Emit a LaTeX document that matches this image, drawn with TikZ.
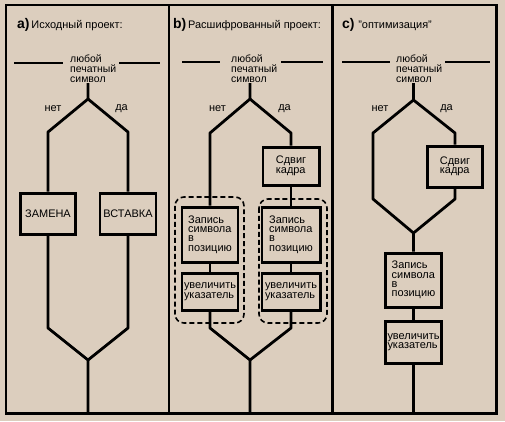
\documentclass[tikz,border=0pt]{standalone}
\usepackage{fontspec}
\setmainfont{Liberation Sans}
\definecolor{bg}{RGB}{220,206,190}
\begin{document}
\begin{tikzpicture}[x=1bp,y=-1bp,
  flow/.style={line width=2.8pt, line join=round},
  box/.style={draw, line width=3pt, inner sep=0pt, align=left, font=\fontsize{11}{9.5}\selectfont},
  lbl/.style={inner sep=0pt, font=\fontsize{11}{10}\selectfont},
  hdr/.style={inner sep=0pt, align=left, anchor=north west, font=\fontsize{10.5}{10}\selectfont},
  ttl/.style={inner sep=0pt, anchor=base west, font=\fontsize{11}{12}\selectfont},
  grp/.style={draw, line width=1.6pt, rounded corners=9pt, dash pattern=on 5pt off 3pt},
  frame/.style={line width=3pt}]

\useasboundingbox[fill=bg] (0,0) rectangle (505,421);

% frame
\draw[frame] (6,5) rectangle (496,413);
\draw[frame] (169,5) -- (169,413);
\draw[frame] (332,5) -- (332,413);

% ---------------- panel a
\node[ttl] (ta) at (17,28) {{\bfseries\fontsize{14}{14}\selectfont a)}\,Исходный проект:};
\node[hdr] (ha) at (70,54.5) {любой\\печатный\\символ};
\coordinate (aH1) at (14,63); \coordinate (aH2) at (63,63);
\coordinate (aH3) at (119,63); \coordinate (aH4) at (160,63);
\draw[flow] (aH1) -- (aH2); \draw[flow] (aH3) -- (aH4);
\node[lbl] (an) at (53,109) {нет};
\node[lbl] (ad) at (121.5,109) {да};
\node[box, minimum width=55bp, minimum height=41bp] (zam) at (48,213.5) {ЗАМЕНА};
\node[box, minimum width=56bp, minimum height=41bp] (vst) at (128,213.5) {ВСТАВКА};
\coordinate (aS) at (88,83); \coordinate (aB) at (88,99);
\coordinate (aL) at (48,132); \coordinate (aR) at (128,132);
\coordinate (aLm) at (48,328); \coordinate (aRm) at (128,328);
\coordinate (aM) at (88,360); \coordinate (aE) at (88,413);
\draw[flow] (aS) -- (aB) -- (aL) -- (zam.north);
\draw[flow] (aB) -- (aR) -- (vst.north);
\draw[flow] (zam.south) -- (aLm) -- (aM) -- (aE);
\draw[flow] (vst.south) -- (aRm) -- (aM);

% ---------------- panel b
\node[ttl] (tb) at (173,28) {{\bfseries\fontsize{14}{14}\selectfont b)}\,Расшифрованный проект:};
\node[hdr] (hb) at (231,54.5) {любой\\печатный\\символ};
\coordinate (bH1) at (182,62); \coordinate (bH2) at (220,62);
\coordinate (bH3) at (281,62); \coordinate (bH4) at (323,62);
\draw[flow] (bH1) -- (bH2); \draw[flow] (bH3) -- (bH4);
\node[lbl] (bn) at (217.5,109) {нет};
\node[lbl] (bd) at (284.5,109) {да};
\node[box, minimum width=56bp, minimum height=38bp] (sb) at (291,166) {Сдвиг\\кадра};
\node[box, minimum width=56bp, minimum height=55bp] (zbl) at (210,234.5) {Запись\\символа\\в\\позицию};
\node[box, minimum width=58bp, minimum height=55bp] (zbr) at (291,234.5) {Запись\\символа\\в\\позицию};
\node[box, minimum width=56bp, minimum height=37bp] (ubl) at (210,291.5) {увеличить\\указатель};
\node[box, minimum width=58bp, minimum height=37bp] (ubr) at (291,291.5) {увеличить\\указатель};
\draw[grp] (175,197) rectangle (244,323);
\draw[grp] (259,199) rectangle (327,323);
\coordinate (bS) at (250,83); \coordinate (bB) at (250,99);
\coordinate (bL) at (210,133); \coordinate (bR) at (291,133);
\coordinate (bLm) at (210,328); \coordinate (bRm) at (291,328);
\coordinate (bM) at (250,360); \coordinate (bE) at (250,413);
\draw[flow] (bS) -- (bB) -- (bL) -- (zbl.north);
\draw[flow] (bB) -- (bR) -- (sb.north);
\draw[flow] (sb.south) -- (zbr.north);
\draw[flow] (zbl.south) -- (ubl.north);
\draw[flow] (zbr.south) -- (ubr.north);
\draw[flow] (ubl.south) -- (bLm) -- (bM) -- (bE);
\draw[flow] (ubr.south) -- (bRm) -- (bM);

% ---------------- panel c
\node[ttl] (tc) at (342,28) {{\bfseries\fontsize{14}{14}\selectfont c)}\,\,"оптимизация"};
\node[hdr] (hc) at (396,54.5) {любой\\печатный\\символ};
\coordinate (cH1) at (342,62); \coordinate (cH2) at (390,62);
\coordinate (cH3) at (445,62); \coordinate (cH4) at (490,62);
\draw[flow] (cH1) -- (cH2); \draw[flow] (cH3) -- (cH4);
\node[lbl] (cn) at (380,109) {нет};
\node[lbl] (cd) at (446.5,109) {да};
\node[box, minimum width=55bp, minimum height=41bp] (sc) at (455,166.5) {Сдвиг\\кадра};
\node[box, minimum width=56bp, minimum height=54bp] (zc) at (413.5,280) {Запись\\символа\\в\\позицию};
\node[box, minimum width=56bp, minimum height=42bp] (uc) at (413.5,342) {увеличить\\указатель};
\coordinate (cS) at (413.5,83); \coordinate (cB) at (413.5,100);
\coordinate (cL) at (373,133); \coordinate (cR) at (455,133);
\coordinate (cLm) at (373,199); \coordinate (cRm) at (455,199);
\coordinate (cM) at (413.5,233); \coordinate (cE) at (413.5,413);
\draw[flow] (cS) -- (cB) -- (cL) -- (cLm) -- (cM) -- (zc.north);
\draw[flow] (cB) -- (cR) -- (sc.north);
\draw[flow] (sc.south) -- (cRm) -- (cM);
\draw[flow] (zc.south) -- (uc.north);
\draw[flow] (uc.south) -- (cE);
\end{tikzpicture}
\end{document}
